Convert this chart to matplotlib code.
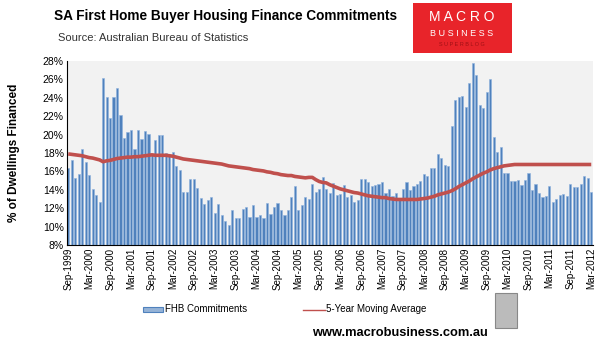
import matplotlib
matplotlib.use("Agg")
import matplotlib.pyplot as plt
from matplotlib.patches import Rectangle
from matplotlib.lines import Line2D
import numpy as np

# ---- data: monthly, Sep-1999 .. Mar-2012 ----
start_year, start_month = 1999, 9
fhb = [16.4, 17.2, 15.3, 15.7, 18.4, 17.0, 15.6, 14.05, 13.4, 12.7,
       26.2, 24.05, 21.8, 24.05, 25.1, 22.1, 19.6, 20.3, 20.5, 18.4,
       20.5, 19.5, 20.4, 20.1, 17.8, 19.4, 19.95, 19.95, 18.0, 17.8,
       18.1, 16.6, 16.15, 13.8, 13.8, 15.2, 15.2, 14.2, 13.1, 12.45,
       12.9, 13.2, 11.5, 12.45, 11.3, 10.6, 10.2, 11.8, 10.9, 10.9,
       11.9, 12.1, 11.0, 12.35, 11.0, 11.25, 10.9, 12.55, 11.35, 12.1,
       12.55, 11.8, 11.25, 11.8, 13.2, 14.4, 11.8, 12.35, 13.2, 13.0,
       14.6, 13.75, 14.1, 15.4, 14.1, 13.65, 14.7, 13.4, 13.5, 14.5,
       13.2, 13.4, 12.7, 12.9, 15.2, 15.2, 14.85, 14.4, 14.5, 14.6,
       14.85, 13.6, 14.1, 13.3, 13.6, 12.9, 14.1, 14.85, 14.0, 14.4,
       14.6, 14.95, 15.7, 15.5, 16.4, 16.4, 17.9, 17.45, 16.7, 16.6,
       20.9, 23.8, 24.1, 24.2, 23.0, 25.6, 27.8, 26.5, 23.2, 22.9,
       24.6, 26.0, 19.7, 18.1, 18.65, 15.8, 15.8, 14.95, 14.95, 15.05,
       14.5, 15.05, 15.8, 14.0, 14.6, 13.65, 13.2, 13.3, 14.4, 12.7,
       13.0, 13.45, 13.55, 13.3, 14.6, 14.3, 14.3, 14.6, 15.5, 15.3,
       13.75]
ma5 = [17.9, 17.85, 17.8, 17.75, 17.7, 17.6, 17.5, 17.45, 17.35, 17.25,
       17.05, 17.15, 17.2, 17.3, 17.4, 17.45, 17.5, 17.55, 17.55, 17.6,
       17.6, 17.65, 17.7, 17.75, 17.8, 17.75, 17.75, 17.75, 17.75, 17.7,
       17.65, 17.55, 17.45, 17.35, 17.3, 17.25, 17.2, 17.15, 17.1, 17.05,
       17.0, 16.95, 16.9, 16.85, 16.8, 16.7, 16.6, 16.55, 16.5, 16.45,
       16.4, 16.35, 16.3, 16.2, 16.15, 16.1, 16.05, 15.95, 15.9, 15.8,
       15.75, 15.65, 15.6, 15.55, 15.55, 15.45, 15.4, 15.35, 15.3, 15.35,
       15.35, 15.1, 14.9, 14.8, 14.75, 14.55, 14.4, 14.25, 14.1, 14.0,
       13.9, 13.8, 13.7, 13.65, 13.55, 13.45, 13.35, 13.3, 13.25, 13.2,
       13.15, 13.15, 13.05, 13.0, 12.95, 12.95, 12.95, 12.95, 12.95, 12.95,
       12.95, 13.0, 13.05, 13.1, 13.2, 13.3, 13.45, 13.55, 13.65, 13.75,
       13.9, 14.1, 14.35, 14.55, 14.75, 14.95, 15.2, 15.4, 15.6, 15.8,
       15.95, 16.15, 16.3, 16.4, 16.5, 16.6, 16.65, 16.7, 16.75, 16.75,
       16.75, 16.75, 16.75, 16.75, 16.75, 16.75, 16.75, 16.75, 16.75, 16.75,
       16.75, 16.75, 16.75, 16.75, 16.75, 16.75, 16.75, 16.75, 16.75, 16.75,
       16.75]
y_ticks = [8, 10, 12, 14, 16, 18, 20, 22, 24, 26, 28]

mon_names = ["Jan", "Feb", "Mar", "Apr", "May", "Jun", "Jul", "Aug", "Sep", "Oct", "Nov", "Dec"]
n = len(fhb)
labels = []
for i in range(n):
    m = (start_month - 1 + i) % 12
    y = start_year + (start_month - 1 + i) // 12
    labels.append(f"{mon_names[m]}-{y}")
x = np.arange(n)
tick_idx = list(range(0, n, 6))

plt.rcParams['font.family'] = ['Liberation Sans', 'DejaVu Sans']

fig = plt.figure(figsize=(6.10, 3.46), dpi=100)
ax = fig.add_axes([66.5/610, 1-245/346, (593-66.5)/610, (245-61)/346])
ax.set_facecolor('#F2F2F2')

ax.bar(x, fhb, width=0.62, color='#4F81BD', edgecolor='#8FB2DE', linewidth=0.4,
       zorder=2)
ax.plot(x, ma5, color='#C0504D', linewidth=2.6, zorder=3, solid_capstyle='butt')

ax.set_xlim(-0.5, n - 0.5)
ax.set_ylim(8, 28)
ax.set_yticks(y_ticks)
ax.set_yticklabels([f"{v}%" for v in y_ticks], fontsize=7.5)
ax.set_xticks(tick_idx)
ax.set_xticklabels([labels[i] for i in tick_idx], rotation=90, fontsize=7)
ax.tick_params(axis='both', length=0, pad=2)
for s in ['top', 'right']:
    ax.spines[s].set_visible(False)
ax.spines['left'].set_color('black')
ax.spines['bottom'].set_color('black')

fig.text(14/610, 1-153/346, "% of Dwellings Financed", rotation=90, fontsize=8.5,
         fontweight='bold', ha='center', va='center')

# titles
fig.text(54/610, 1-16/346, "SA First Home Buyer Housing Finance Commitments",
         fontsize=9.8, fontweight='bold', ha='left', va='center')
fig.text(58/610, 1-38/346, "Source: Australian Bureau of Statistics",
         fontsize=8, color='#333333', ha='left', va='center')

# logo box
fig.patches.append(Rectangle((413/610, 1-53/346), 99/610, 50/346, transform=fig.transFigure,
                             facecolor='#E8242A', edgecolor='none'))
fig.text(462/610, 1-17/346, "M A C R O", color='white', fontsize=10, ha='center', va='center')
fig.text(462/610, 1-33/346, "B U S I N E S S", color='white', fontsize=6.5, ha='center', va='center')
fig.text(462/610, 1-44/346, "S U P E R B L O G", color='#A01015', fontsize=4, ha='center', va='center')

# legend
fig.patches.append(Rectangle((143/610, 1-312/346), 20/610, 5/346, transform=fig.transFigure,
                             facecolor='#95B3D7', edgecolor='#4F81BD', linewidth=0.8))
fig.text(165/610, 1-309.5/346, "FHB Commitments", fontsize=7, ha='left', va='center')
fig.lines.append(Line2D([303/610, 325/610], [1-309.5/346, 1-309.5/346], transform=fig.transFigure,
                        color='#C0504D', linewidth=1.0))
fig.text(326/610, 1-309.5/346, "5-Year Moving Average", fontsize=7, ha='left', va='center')

# footer
fig.text(488/610, 1-333/346, "www.macrobusiness.com.au", fontsize=9.3, fontweight='bold',
         ha='right', va='center')
fig.patches.append(Rectangle((495/610, 1-328/346), 22/610, 35/346, transform=fig.transFigure,
                             facecolor='#BBBBBB', edgecolor='#888888', linewidth=0.8))

fig.savefig("out.png", dpi=100)
